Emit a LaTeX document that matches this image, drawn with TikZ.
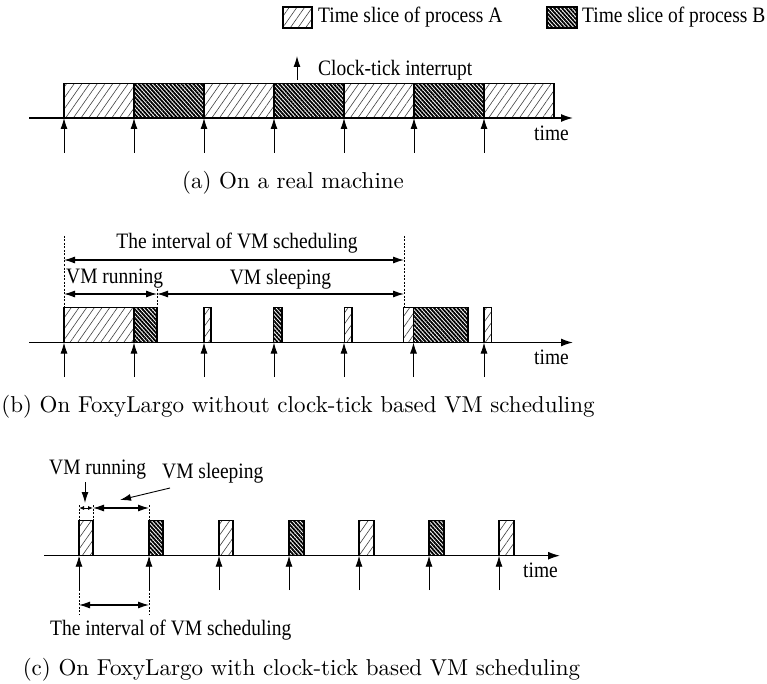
\documentclass[tikz,border=0pt]{standalone}
\usepackage{fontspec}
\newfontfamily\tf[FakeStretch=0.885]{Liberation Serif}
\newfontfamily\capfont{lmroman10-regular.otf}
\usetikzlibrary{arrows.meta,patterns.meta}
\begin{document}
\begin{tikzpicture}[x=1pt,y=-1pt,
 lbl/.style={font=\tf\fontsize{22}{24}\selectfont, inner sep=0pt},
 captxt/.style={font=\capfont\fontsize{23}{27}\selectfont, inner sep=0pt},
 boxA/.style={draw=black,line width=1.3pt,pattern={Lines[angle=55,distance=6.3pt,line width=0.6pt]},pattern color=black!75},
 boxB/.style={draw=black,line width=1.3pt,pattern={Lines[angle=-48,distance=2.9pt,line width=1.8pt]},pattern color=black},
 axis/.style={line width=1.4pt,-{Latex[length=12pt,width=8pt]}},
 tick/.style={line width=0.9pt,-{Latex[length=11pt,width=7pt]}},
 dim/.style={line width=1.1pt,{Latex[length=11pt,width=7pt]}-{Latex[length=11pt,width=7pt]}},
 sdim/.style={line width=0.8pt,{Latex[length=5pt,width=4pt]}-{Latex[length=5pt,width=4pt]}},
 vdash/.style={line width=0.8pt,dash pattern=on 2pt off 1.5pt}]
\useasboundingbox (0,0) rectangle (767,684);

% ---------- legend ----------
\draw[boxA] (283,7) rectangle (312,28);
\node[lbl,anchor=west] (legA) at (318,17) {Time slice of process A};
\draw[boxB] (547,7) rectangle (577,28);
\node[lbl,anchor=west] (legB) at (582,17) {Time slice of process B};

% ---------- panel (a) ----------
\foreach \a/\b/\t in {64/134/A,134/204/B,204/274/A,274/344/B,344/414/A,414/484/B,484/554/A}
  {\draw[box\t] (\a,83.5) rectangle (\b,118);}
\coordinate (aL) at (29,118);
\coordinate (aR) at (573,118);
\draw[axis] (aL) -- (aR);
\foreach \x [count=\i] in {64,134,204,274,344,414,484}
  {\coordinate (at\i) at (\x,118); \coordinate (ab\i) at (\x,153);
   \draw[tick] (ab\i) -- (at\i);}
\coordinate (ck1) at (297,80);
\coordinate (ck2) at (297,56);
\draw[tick] (ck1) -- (ck2);
\node[lbl,anchor=west] (clk) at (318,70) {Clock-tick interrupt};
\node[lbl,anchor=west] (timea) at (534,133) {time};
\node[captxt] (capa) at (293,183) {(a) On a real machine};

% ---------- panel (b) ----------
\foreach \a/\b/\t in {64/134/A,134/157/B,204/211/A,273.5/282/B,344.5/352/A,403.5/413.5/A,413.5/468/B,484/491.5/A}
  {\draw[box\t] (\a,307.5) rectangle (\b,342.5);}
\coordinate (bL) at (29,342.5);
\coordinate (bR) at (573,342.5);
\draw[axis] (bL) -- (bR);
\foreach \x [count=\i] in {64,134,204,274,344,413.5,484}
  {\coordinate (bt\i) at (\x,342.5); \coordinate (bb\i) at (\x,377);
   \draw[tick] (bb\i) -- (bt\i);}
\coordinate (d1t) at (64,236); \coordinate (d1b) at (64,307.5);
\coordinate (d2t) at (404,236); \coordinate (d2b) at (404,307.5);
\coordinate (d3t) at (157,289); \coordinate (d3b) at (157,307.5);
\draw[vdash] (d1t) -- (d1b);
\draw[vdash] (d2t) -- (d2b);
\draw[vdash] (d3t) -- (d3b);
\coordinate (i1) at (64,260); \coordinate (i2) at (404,260);
\draw[dim] (i1) -- (i2);
\coordinate (r1) at (64,294); \coordinate (r2) at (157,294); \coordinate (r3) at (404,294);
\draw[dim] (r1) -- (r2);
\draw[dim] (r2) -- (r3);
\node[lbl] (intb) at (237,243) {The interval of VM scheduling};
\node[lbl,anchor=west] (runb) at (66,279) {VM running};
\node[lbl] (sleepb) at (280.5,279) {VM sleeping};
\node[lbl,anchor=west] (timeb) at (534,357) {time};
\node[captxt] (capb) at (298,407) {(b) On FoxyLargo without clock-tick based VM scheduling};

% ---------- panel (c) ----------
\foreach \a/\b/\t in {79/93/A,149/163/B,219/233/A,289/304/B,359/374/A,429/444/B,499/514/A}
  {\draw[box\t] (\a,520.7) rectangle (\b,555.7);}
\coordinate (cL) at (44,555.7);
\coordinate (cR) at (560,555.7);
\draw[axis] (cL) -- (cR);
\foreach \x [count=\i] in {79,149,219,289,359,429,499}
  {\coordinate (ct\i) at (\x,555.7); \coordinate (cb\i) at (\x,590);
   \draw[tick] (cb\i) -- (ct\i);}
\coordinate (e1t) at (79,505); \coordinate (e1b) at (79,615);
\coordinate (e2t) at (93,505); \coordinate (e2b) at (93,520.7);
\coordinate (e3t) at (149,505); \coordinate (e3b) at (149,615);
\draw[vdash] (e1t) -- (e1b);
\draw[vdash] (e2t) -- (e2b);
\draw[vdash] (e3t) -- (e3b);
\coordinate (s1) at (79,508); \coordinate (s2) at (93,508); \coordinate (s3) at (149,508);
\draw[sdim] (s1) -- (s2);
\draw[dim] (s2) -- (s3);
\coordinate (l1) at (79,605); \coordinate (l2) at (149,605);
\draw[dim] (l1) -- (l2);
\node[lbl,anchor=west] (runc) at (49,470) {VM running};
\node[lbl,anchor=west] (sleepc) at (162,473) {VM sleeping};
\coordinate (rp1) at (85,482); \coordinate (rp2) at (85,503);
\draw[tick] (rp1) -- (rp2);
\coordinate (sp1) at (170,488); \coordinate (sp2) at (120,500);
\draw[tick] (sp1) -- (sp2);
\node[lbl,anchor=west] (intc) at (50,630) {The interval of VM scheduling};
\node[lbl,anchor=west] (timec) at (523,570) {time};
\node[captxt] (capc) at (301.5,670) {(c) On FoxyLargo with clock-tick based VM scheduling};
\end{tikzpicture}
\end{document}
